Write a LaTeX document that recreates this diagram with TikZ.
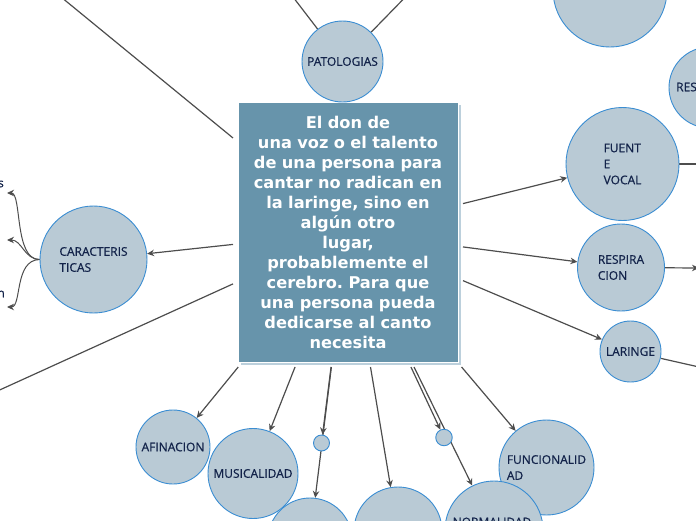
\documentclass[tikz,border=0pt]{standalone}
\usepackage{fontspec}
\setmainfont{Open Sans}
\newfontfamily\circfont[FakeBold=0.7]{Open Sans}
\newfontfamily\boxfont{DejaVu Sans}
\usetikzlibrary{arrows.meta}
\definecolor{boxfill}{HTML}{6794AB}
\definecolor{boxshadow}{HTML}{BCD0DC}
\definecolor{circfill}{HTML}{B9CAD5}
\definecolor{circline}{HTML}{3A8DD2}
\definecolor{navy}{HTML}{13234A}
\definecolor{conn}{HTML}{4D4D4D}
\pgfdeclarelayer{bg}
\pgfsetlayers{bg,main}
\frenchspacing
\tikzset{
  bubble/.style={circle, fill=circfill, draw=circline, line width=0.9pt, inner sep=0pt,
    minimum size=#1, text=navy, align=left, font=\circfont\fontsize{12}{16}\selectfont},
  lbl/.style={text=navy, inner sep=0pt, font=\circfont\fontsize{12}{16}\selectfont},
  link/.style={draw=conn, line width=1.2pt},
  arr/.style={link, -{Stealth[length=7pt,width=6.5pt]}},
  mainbox/.style={rectangle, fill=boxfill, draw=white, line width=0.8pt,
    minimum width=220pt, minimum height=260pt, outer sep=5pt, text=white,
    align=center, text width=214pt, inner sep=0pt,
    font=\boxfont\bfseries\fontsize{16.2}{20}\selectfont}
}
\begin{document}
\begin{tikzpicture}[x=1pt,y=-1pt]
\clip (0,0) rectangle (696,520);
% shadow of main box
\fill[boxshadow] (240.5,104.5) rectangle (460.5,364.5);
\node[mainbox] (box) at (348,232) {El don de\\una voz o el talento\\de una persona para\\cantar no radican en\\la laringe, sino en\\algún otro\\lugar,\\probablemente el\\cerebro. Para que\\una persona pueda\\dedicarse al canto\\necesita};
% circles
\node[bubble=81pt] (pat) at (342.5,61.5) {PATOLOGIAS};
\node[bubble=114pt] (top) at (610,-10) {};
\node[bubble=81pt] (res) at (709.5,87.5) {};
\node[lbl, anchor=west] (rest) at (676,87) {RES};
\node[bubble=113pt] (fv) at (622.5,164) {FUENT\\E\\VOCAL};
\node[bubble=87pt] (resp) at (621,267.5) {RESPIRA\\CION};
\node[bubble=61pt] (lar) at (630.5,351.5) {LARINGE};
\node[bubble=107pt] (car) at (93.5,259.5) {CARACTERIS\\TICAS};
\node[bubble=74pt] (afi) at (173,447) {AFINACION};
\node[bubble=90pt] (mus) at (253,473.5) {MUSICALIDAD};
\node[bubble=84pt] (ca) at (310,540) {};
\node[bubble=88pt] (cb) at (398,531) {};
\node[bubble=95pt] (fun) at (546.5,467.5) {FUNCIONALID\\AD};
\node[bubble=98pt] (nor) at (494,530) {};
\node[lbl] (nort) at (492,522) {NORMALIDAD};
\node[bubble=16pt] (s1) at (321.5,443) {};
\node[bubble=16.5pt] (s2) at (444,437.5) {};
% cut-off texts at left edge
\node[lbl, anchor=east] (ts) at (4,184) {s};
\node[lbl, anchor=east] (tn) at (5,294) {n};
% free ends
\coordinate (offtl) at (0,-53);
\coordinate (offbl) at (-40,408);
\coordinate (offp1) at (280,-20);
\coordinate (offp2) at (424,-22);
\coordinate (offfv) at (720,164);
\coordinate (offresp) at (699,268);
\coordinate (offlar) at (730,374);
\coordinate (c1) at (7,193);
\coordinate (c2) at (7,240);
\coordinate (c3) at (7,307);
\begin{pgfonlayer}{bg}
\draw[link] (box) -- (offtl);
\draw[link] (box) -- (offbl);
\draw[arr] (box) -- (car);
\draw[arr] (box) -- (fv);
\draw[arr] (box) -- (resp);
\draw[arr] (box) -- (lar);
\draw[arr] (box) -- (afi);
\draw[arr] (box) -- (mus);
\draw[arr] (box) -- (s1);
\draw[arr] (box) -- (ca);
\draw[arr] (box) -- (cb);
\draw[arr] (box) -- (s2);
\draw[arr] (box) -- (nor);
\draw[arr] (box) -- (fun);
\draw[link] (pat) -- (offp1);
\draw[link] (pat) -- (offp2);
\draw[link] (fv) -- (offfv);
\draw[arr] (resp) -- (offresp);
\draw[link] (lar) -- (offlar);
\draw[arr, line width=1pt] (car.west) .. controls (14,260) and (22,193) .. (c1);
\draw[arr, line width=1pt] (car.west) .. controls (24,259) and (22,240) .. (c2);
\draw[arr, line width=1pt] (car.west) .. controls (14,260) and (22,307) .. (c3);
\end{pgfonlayer}
\end{tikzpicture}
\end{document}
